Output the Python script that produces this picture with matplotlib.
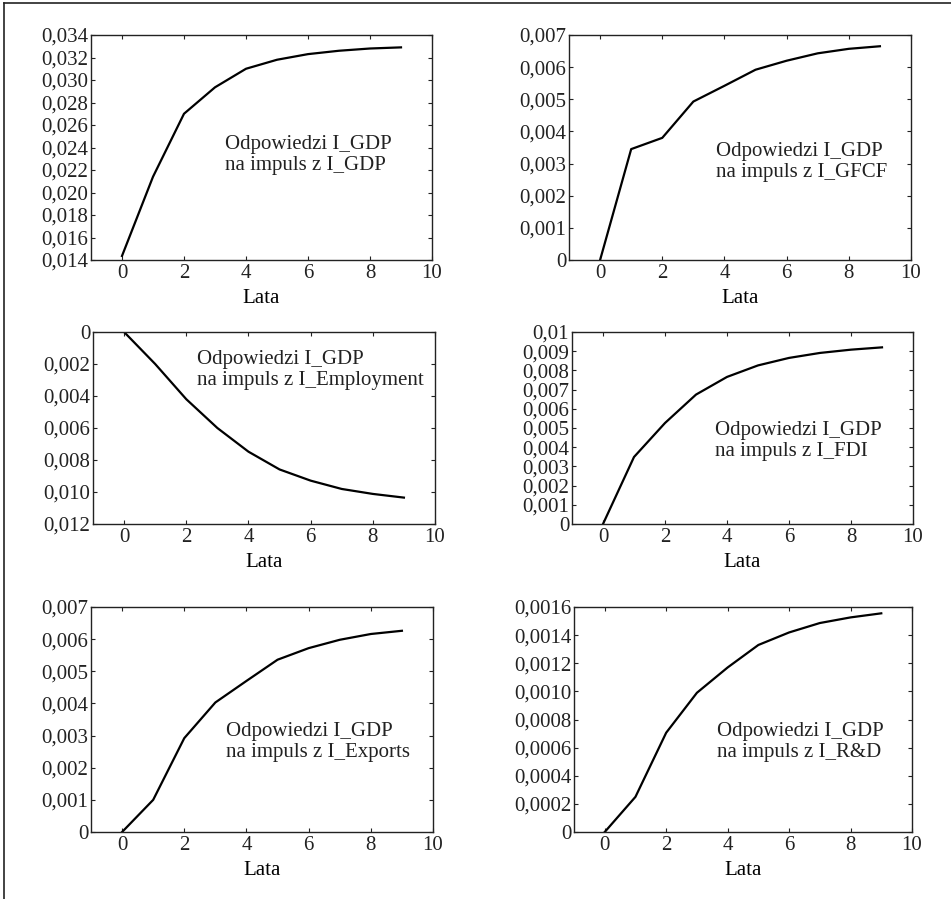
import matplotlib.pyplot as plt
from matplotlib.lines import Line2D

plt.rcParams.update({
    'font.family': 'Liberation Serif',
    'font.size': 15,
    'axes.linewidth': 1.0,
    'xtick.direction': 'in',
    'ytick.direction': 'in',
    'xtick.top': True,
    'ytick.right': True,
    'xtick.major.size': 3,
    'ytick.major.size': 3,
    'xtick.major.pad': 3,
    'ytick.major.pad': 2,
})

lata = list(range(10))

resp_gdp = [0.01436, 0.0214, 0.0270, 0.02935, 0.0310, 0.0318, 0.0323, 0.0326, 0.0328, 0.0329]
resp_gfcf = [0.0, 0.00345, 0.00380, 0.00493, 0.00542, 0.00592, 0.00620, 0.00643, 0.00657, 0.00665]
resp_employment = [0.0, -0.0020, -0.0042, -0.0060, -0.00748, -0.00859, -0.00929, -0.00981, -0.01012, -0.01035]
resp_fdi = [0.0, 0.00349, 0.00526, 0.00674, 0.00766, 0.00826, 0.00865, 0.00891, 0.00908, 0.00920]
resp_exports = [0.0, 0.0010, 0.00292, 0.00403, 0.00470, 0.00536, 0.00572, 0.00598, 0.00616, 0.00626]
resp_rd = [0.0, 0.00025, 0.000706, 0.00099, 0.00117, 0.00133, 0.001419, 0.001486, 0.001526, 0.001555]

labels = ['I_GDP', 'I_GFCF', 'I_Employment', 'I_FDI', 'I_Exports', 'I_R&D']

yticks = [
    [0.014 + 0.002 * i for i in range(11)],
    [0.001 * i for i in range(8)],
    [-0.002 * i for i in range(7)],
    [0.001 * i for i in range(11)],
    [0.001 * i for i in range(8)],
    [0.0002 * i for i in range(9)],
]
ytick_labels = [
    ['0,014', '0,016', '0,018', '0,020', '0,022', '0,024', '0,026', '0,028', '0,030', '0,032', '0,034'],
    ['0', '0,001', '0,002', '0,003', '0,004', '0,005', '0,006', '0,007'],
    ['0', '0,002', '0,004', '0,006', '0,008', '0,010', '0,012'],
    ['0', '0,001', '0,002', '0,003', '0,004', '0,005', '0,006', '0,007', '0,008', '0,009', '0,01'],
    ['0', '0,001', '0,002', '0,003', '0,004', '0,005', '0,006', '0,007'],
    ['0', '0,0002', '0,0004', '0,0006', '0,0008', '0,0010', '0,0012', '0,0014', '0,0016'],
]

series = [resp_gdp, resp_gfcf, resp_employment, resp_fdi, resp_exports, resp_rd]

W, H = 951, 899
# axes boxes in pixels: left, top, right, bottom
boxes = [
    (91, 35, 432, 260), (569, 35, 911, 260),
    (93, 332, 435, 524), (572, 332, 913, 524),
    (91, 607, 433, 832), (574, 607, 912, 832),
]
text_pos = [(0.393, 0.467), (0.43, 0.436), (0.304, 0.80),
            (0.42, 0.43), (0.395, 0.40), (0.423, 0.40)]

fig = plt.figure(figsize=(W / 100, H / 100), dpi=100)

for i in range(6):
    l, t, r, b = boxes[i]
    ax = fig.add_axes([l / W, 1 - b / H, (r - l) / W, (b - t) / H])
    ax.plot(lata, series[i], color='black', linewidth=1.6)
    ax.set_xlim(-1, 10)
    ax.set_xticks([0, 2, 4, 6, 8, 10])
    ax.set_yticks(yticks[i])
    ax.set_yticklabels(ytick_labels[i])
    if i == 2:
        ax.set_ylim(yticks[i][-1], 0)
    else:
        ax.set_ylim(yticks[i][0], yticks[i][-1])
    ax.set_xlabel('Lata', labelpad=4)
    tx, ty = text_pos[i]
    ax.text(tx, ty, 'Odpowiedzi I_GDP\nna impuls z ' + labels[i], transform=ax.transAxes,
            ha='left', va='center', linespacing=1.15, color='#222222')
    for sp in ax.spines.values():
        sp.set_color('#222222')
    ax.tick_params(colors='#222222')

# outer frame (top and left only)
fig.add_artist(Line2D([4 / W, 1], [1 - 2.5 / H, 1 - 2.5 / H], color='#222222', linewidth=1.2))
fig.add_artist(Line2D([4 / W, 4 / W], [0, 1 - 2.5 / H], color='#222222', linewidth=1.2))

plt.savefig('out.png', dpi=100)
